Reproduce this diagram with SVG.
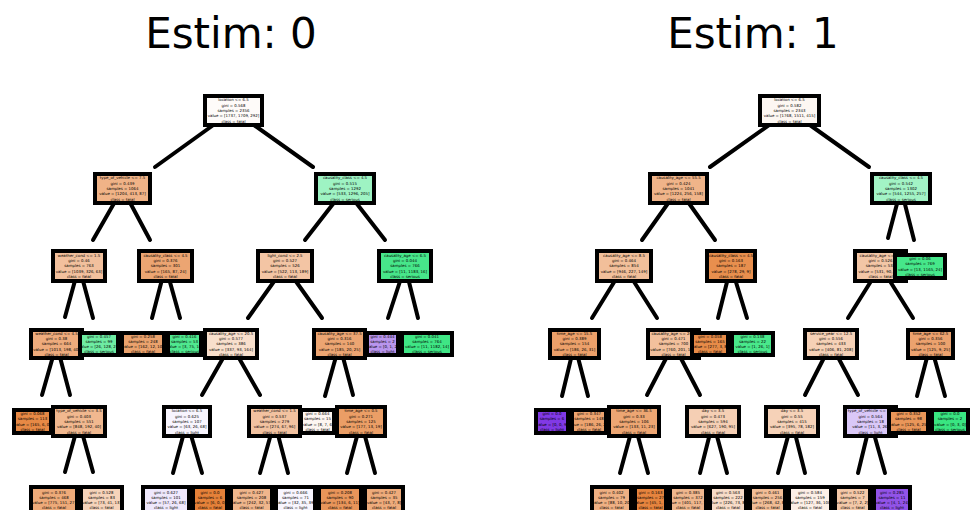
<svg xmlns="http://www.w3.org/2000/svg" width="973" height="510" viewBox="0 0 973 510">
<style>
.title{font-family:"DejaVu Sans",sans-serif;font-size:42px;text-anchor:middle;fill:#000}
.n rect{stroke:#000;stroke-width:4}
.n text{font-family:"DejaVu Sans",sans-serif;font-size:3.9px;text-anchor:middle;fill:#000}
.e line{stroke:#000;stroke-width:4;stroke-linecap:round}
</style>
<rect width="973" height="510" fill="#fff"/>
<text class="title" x="231" y="48">Estim: 0</text>
<text class="title" x="753" y="48">Estim: 1</text>
<g id="connectors" class="e">
<line x1="233.5" y1="110.5" x2="155" y2="167"/><line x1="233.5" y1="110.5" x2="313" y2="167"/>
<line x1="122.5" y1="188.5" x2="93" y2="240"/><line x1="122.5" y1="188.5" x2="150" y2="240"/>
<line x1="345" y1="188.5" x2="305" y2="240"/><line x1="345" y1="188.5" x2="385" y2="240"/>
<line x1="79" y1="266" x2="65" y2="317"/><line x1="79" y1="266" x2="93" y2="318"/>
<line x1="165.5" y1="266" x2="152" y2="318"/><line x1="165.5" y1="266" x2="180" y2="318"/>
<line x1="285" y1="266" x2="248" y2="318"/><line x1="285" y1="266" x2="322" y2="318"/>
<line x1="405" y1="266" x2="388" y2="318"/><line x1="405" y1="266" x2="418" y2="318"/>
<line x1="56.5" y1="344" x2="42" y2="395"/><line x1="56.5" y1="344" x2="70" y2="395"/>
<line x1="231" y1="344" x2="202" y2="395"/><line x1="231" y1="344" x2="260" y2="395"/>
<line x1="339.5" y1="344" x2="325" y2="396"/><line x1="339.5" y1="344" x2="353" y2="395"/>
<line x1="79" y1="421.5" x2="65" y2="472"/><line x1="79" y1="421.5" x2="93" y2="472"/>
<line x1="187" y1="421.5" x2="173" y2="473"/><line x1="187" y1="421.5" x2="202" y2="473"/>
<line x1="274.5" y1="421.5" x2="260" y2="473"/><line x1="274.5" y1="421.5" x2="288" y2="473"/>
<line x1="361" y1="421.5" x2="347" y2="473"/><line x1="361" y1="421.5" x2="375" y2="473"/>
<line x1="789.5" y1="110.5" x2="710" y2="167"/><line x1="789.5" y1="110.5" x2="869" y2="167"/>
<line x1="678.5" y1="188.5" x2="642" y2="240"/><line x1="678.5" y1="188.5" x2="715" y2="240"/>
<line x1="901" y1="188.5" x2="888" y2="238"/><line x1="901" y1="188.5" x2="914" y2="240"/>
<line x1="624" y1="266" x2="592" y2="318"/><line x1="624" y1="266" x2="657" y2="318"/>
<line x1="731" y1="266" x2="718" y2="318"/><line x1="731" y1="266" x2="747" y2="318"/>
<line x1="880.5" y1="266" x2="848" y2="318"/><line x1="880.5" y1="266" x2="913" y2="318"/>
<line x1="574.5" y1="344" x2="562" y2="396"/><line x1="574.5" y1="344" x2="588" y2="396"/>
<line x1="673.5" y1="344" x2="647" y2="395"/><line x1="673.5" y1="344" x2="700" y2="395"/>
<line x1="831" y1="344" x2="805" y2="395"/><line x1="831" y1="344" x2="858" y2="395"/>
<line x1="930.5" y1="344" x2="917" y2="396"/><line x1="930.5" y1="344" x2="945" y2="396"/>
<line x1="634" y1="421.5" x2="620" y2="473"/><line x1="634" y1="421.5" x2="648" y2="473"/>
<line x1="713" y1="421.5" x2="700" y2="473"/><line x1="713" y1="421.5" x2="727" y2="473"/>
<line x1="792" y1="421.5" x2="778" y2="473"/><line x1="792" y1="421.5" x2="805" y2="473"/>
<line x1="870.5" y1="421.5" x2="858" y2="473"/><line x1="870.5" y1="421.5" x2="885" y2="473"/>
</g>
<!-- Tree 0 -->
<g id="t0-root" class="n"><rect x="205" y="96" width="57" height="29" fill="#fefbf9"/><text x="233.5" y="101.3"><tspan x="233.5">location &lt;= 6.5</tspan><tspan x="233.5" dy="5.3">gini = 0.568</tspan><tspan x="233.5" dy="5.3">samples = 2356</tspan><tspan x="233.5" dy="5.3">value = [1737, 1709, 292]</tspan><tspan x="233.5" dy="5.3">class = fatal</tspan></text></g>
<g id="t0-L" class="n"><rect x="95" y="174" width="55" height="29" fill="#f0b387"/><text x="122.5" y="179.3"><tspan x="122.5">type_of_vehicle &lt;= 7.5</tspan><tspan x="122.5" dy="5.3">gini = 0.439</tspan><tspan x="122.5" dy="5.3">samples = 1064</tspan><tspan x="122.5" dy="5.3">value = [1204, 413, 87]</tspan><tspan x="122.5" dy="5.3">class = fatal</tspan></text></g>
<g id="t0-A" class="n"><rect x="53" y="251" width="52" height="30" fill="#f2c09d"/><text x="79" y="256.8"><tspan x="79">weather_cond &lt;= 1.5</tspan><tspan x="79" dy="5.3">gini = 0.46</tspan><tspan x="79" dy="5.3">samples = 763</tspan><tspan x="79" dy="5.3">value = [1039, 326, 63]</tspan><tspan x="79" dy="5.3">class = fatal</tspan></text></g>
<g id="t0-E" class="n"><rect x="31" y="330" width="51" height="28" fill="#eeab7c"/><text x="56.5" y="334.8"><tspan x="56.5">weather_cond &lt;= 4.5</tspan><tspan x="56.5" dy="5.3">gini = 0.38</tspan><tspan x="56.5" dy="5.3">samples = 664</tspan><tspan x="56.5" dy="5.3">value = [1013, 198, 40]</tspan><tspan x="56.5" dy="5.3">class = fatal</tspan></text></g>
<g id="t0-M" class="n"><rect x="14" y="410" width="37" height="23" fill="#e78945"/><text x="32.5" y="415"><tspan x="32.5">gini = 0.068</tspan><tspan x="32.5" dy="5.3">samples = 113</tspan><tspan x="32.5" dy="5.3">value = [165, 6, 0]</tspan><tspan x="32.5" dy="5.3">class = fatal</tspan></text></g>
<g id="t0-N" class="n"><rect x="53" y="407" width="52" height="29" fill="#f1b88f"/><text x="79" y="412.3"><tspan x="79">type_of_vehicle &lt;= 3.5</tspan><tspan x="79" dy="5.3">gini = 0.403</tspan><tspan x="79" dy="5.3">samples = 551</tspan><tspan x="79" dy="5.3">value = [848, 192, 40]</tspan><tspan x="79" dy="5.3">class = fatal</tspan></text></g>
<g id="t0-S1" class="n"><rect x="31" y="487" width="46" height="26" fill="#eeaa79"/><text x="54" y="493.5"><tspan x="54">gini = 0.376</tspan><tspan x="54" dy="5.3">samples = 468</tspan><tspan x="54" dy="5.3">value = [775, 151, 27]</tspan><tspan x="54" dy="5.3">class = fatal</tspan></text></g>
<g id="t0-S2" class="n"><rect x="81" y="487" width="41" height="26" fill="#f6d3ba"/><text x="101.5" y="493.5"><tspan x="101.5">gini = 0.528</tspan><tspan x="101.5" dy="5.3">samples = 83</tspan><tspan x="101.5" dy="5.3">value = [73, 41, 13]</tspan><tspan x="101.5" dy="5.3">class = fatal</tspan></text></g>
<g id="t0-F" class="n"><rect x="80" y="333" width="38" height="22" fill="#6eeca3"/><text x="99" y="337.5"><tspan x="99">gini = 0.457</tspan><tspan x="99" dy="5.3">samples = 99</tspan><tspan x="99" dy="5.3">value = [26, 128, 23]</tspan><tspan x="99" dy="5.3">class = serious</tspan></text></g>
<g id="t0-B" class="n"><rect x="139" y="251" width="53" height="30" fill="#eca572"/><text x="165.5" y="256.8"><tspan x="165.5">causality_class &lt;= 4.5</tspan><tspan x="165.5" dy="5.3">gini = 0.376</tspan><tspan x="165.5" dy="5.3">samples = 301</tspan><tspan x="165.5" dy="5.3">value = [165, 87, 24]</tspan><tspan x="165.5" dy="5.3">class = fatal</tspan></text></g>
<g id="t0-G" class="n"><rect x="122" y="333" width="42" height="22" fill="#eba26d"/><text x="143" y="337.5"><tspan x="143">gini = 0.258</tspan><tspan x="143" dy="5.3">samples = 248</tspan><tspan x="143" dy="5.3">value = [162, 12, 10]</tspan><tspan x="143" dy="5.3">class = fatal</tspan></text></g>
<g id="t0-H" class="n"><rect x="168" y="333" width="33" height="22" fill="#4fe88f"/><text x="184.5" y="337.5"><tspan x="184.5">gini = 0.416</tspan><tspan x="184.5" dy="5.3">samples = 53</tspan><tspan x="184.5" dy="5.3">value = [3, 75, 14]</tspan><tspan x="184.5" dy="5.3">class = serious</tspan></text></g>
<g id="t0-R" class="n"><rect x="316" y="174" width="58" height="29" fill="#9ef3c3"/><text x="345" y="179.3"><tspan x="345">causality_class &lt;= 4.5</tspan><tspan x="345" dy="5.3">gini = 0.515</tspan><tspan x="345" dy="5.3">samples = 1292</tspan><tspan x="345" dy="5.3">value = [533, 1296, 205]</tspan><tspan x="345" dy="5.3">class = serious</tspan></text></g>
<g id="t0-C" class="n"><rect x="258" y="251" width="54" height="30" fill="#f3c5a4"/><text x="285" y="256.8"><tspan x="285">light_cond &lt;= 2.5</tspan><tspan x="285" dy="5.3">gini = 0.527</tspan><tspan x="285" dy="5.3">samples = 526</tspan><tspan x="285" dy="5.3">value = [522, 113, 189]</tspan><tspan x="285" dy="5.3">class = fatal</tspan></text></g>
<g id="t0-I" class="n"><rect x="205" y="330" width="52" height="28" fill="#f8dfcc"/><text x="231" y="334.8"><tspan x="231">causality_age &lt;= 20.5</tspan><tspan x="231" dy="5.3">gini = 0.577</tspan><tspan x="231" dy="5.3">samples = 386</tspan><tspan x="231" dy="5.3">value = [337, 93, 164]</tspan><tspan x="231" dy="5.3">class = fatal</tspan></text></g>
<g id="t0-O" class="n"><rect x="164" y="407" width="46" height="29" fill="#f8f5fe"/><text x="187" y="412.3"><tspan x="187">location &lt;= 6.5</tspan><tspan x="187" dy="5.3">gini = 0.625</tspan><tspan x="187" dy="5.3">samples = 107</tspan><tspan x="187" dy="5.3">value = [63, 26, 68]</tspan><tspan x="187" dy="5.3">class = light</tspan></text></g>
<g id="t0-S3" class="n"><rect x="143" y="487" width="46" height="26" fill="#efe8fc"/><text x="166" y="493.5"><tspan x="166">gini = 0.627</tspan><tspan x="166" dy="5.3">samples = 101</tspan><tspan x="166" dy="5.3">value = [57, 26, 68]</tspan><tspan x="166" dy="5.3">class = light</tspan></text></g>
<g id="t0-S4" class="n"><rect x="193" y="487" width="34" height="26" fill="#e58139"/><text x="210" y="493.5"><tspan x="210">gini = 0.0</tspan><tspan x="210" dy="5.3">samples = 6</tspan><tspan x="210" dy="5.3">value = [6, 0, 0]</tspan><tspan x="210" dy="5.3">class = fatal</tspan></text></g>
<g id="t0-P" class="n"><rect x="249" y="407" width="51" height="29" fill="#f2c2a0"/><text x="274.5" y="412.3"><tspan x="274.5">weather_cond &lt;= 1.5</tspan><tspan x="274.5" dy="5.3">gini = 0.537</tspan><tspan x="274.5" dy="5.3">samples = 279</tspan><tspan x="274.5" dy="5.3">value = [274, 67, 96]</tspan><tspan x="274.5" dy="5.3">class = fatal</tspan></text></g>
<g id="t0-S5" class="n"><rect x="231" y="487" width="41" height="26" fill="#f0b68c"/><text x="251.5" y="493.5"><tspan x="251.5">gini = 0.427</tspan><tspan x="251.5" dy="5.3">samples = 208</tspan><tspan x="251.5" dy="5.3">value = [242, 32, 57]</tspan><tspan x="251.5" dy="5.3">class = fatal</tspan></text></g>
<g id="t0-S6" class="n"><rect x="276" y="487" width="39" height="26" fill="#f8f5fe"/><text x="295.5" y="493.5"><tspan x="295.5">gini = 0.666</tspan><tspan x="295.5" dy="5.3">samples = 71</tspan><tspan x="295.5" dy="5.3">value = [32, 35, 39]</tspan><tspan x="295.5" dy="5.3">class = light</tspan></text></g>
<g id="t0-J" class="n"><rect x="314" y="330" width="51" height="28" fill="#eca572"/><text x="339.5" y="334.8"><tspan x="339.5">causality_age &lt;= 37.5</tspan><tspan x="339.5" dy="5.3">gini = 0.316</tspan><tspan x="339.5" dy="5.3">samples = 140</tspan><tspan x="339.5" dy="5.3">value = [185, 20, 25]</tspan><tspan x="339.5" dy="5.3">class = fatal</tspan></text></g>
<g id="t0-Q" class="n"><rect x="301" y="410" width="33" height="23" fill="#fdf6f1"/><text x="317.5" y="415"><tspan x="317.5">gini = 0.664</tspan><tspan x="317.5" dy="5.3">samples = 15</tspan><tspan x="317.5" dy="5.3">value = [8, 7, 6]</tspan><tspan x="317.5" dy="5.3">class = fatal</tspan></text></g>
<g id="t0-Rr" class="n"><rect x="337" y="407" width="48" height="29" fill="#eb9e66"/><text x="361" y="412.3"><tspan x="361">time_age &lt;= 0.5</tspan><tspan x="361" dy="5.3">gini = 0.271</tspan><tspan x="361" dy="5.3">samples = 125</tspan><tspan x="361" dy="5.3">value = [177, 13, 19]</tspan><tspan x="361" dy="5.3">class = fatal</tspan></text></g>
<g id="t0-S7" class="n"><rect x="319" y="487" width="42" height="26" fill="#e9955a"/><text x="340" y="493.5"><tspan x="340">gini = 0.208</tspan><tspan x="340" dy="5.3">samples = 90</tspan><tspan x="340" dy="5.3">value = [134, 6, 11]</tspan><tspan x="340" dy="5.3">class = fatal</tspan></text></g>
<g id="t0-S8" class="n"><rect x="365" y="487" width="38" height="26" fill="#eeab7b"/><text x="384" y="493.5"><tspan x="384">gini = 0.427</tspan><tspan x="384" dy="5.3">samples = 35</tspan><tspan x="384" dy="5.3">value = [43, 7, 8]</tspan><tspan x="384" dy="5.3">class = fatal</tspan></text></g>
<g id="t0-D" class="n"><rect x="379" y="251" width="52" height="30" fill="#47e68a"/><text x="405" y="256.8"><tspan x="405">causality_age &lt;= 6.5</tspan><tspan x="405" dy="5.3">gini = 0.044</tspan><tspan x="405" dy="5.3">samples = 766</tspan><tspan x="405" dy="5.3">value = [11, 1183, 16]</tspan><tspan x="405" dy="5.3">class = serious</tspan></text></g>
<g id="t0-K" class="n"><rect x="367" y="333" width="31" height="22" fill="#b995ee"/><text x="382.5" y="337.5"><tspan x="382.5">gini = 0.444</tspan><tspan x="382.5" dy="5.3">samples = 2</tspan><tspan x="382.5" dy="5.3">value = [0, 1, 2]</tspan><tspan x="382.5" dy="5.3">class = light</tspan></text></g>
<g id="t0-L2" class="n"><rect x="402" y="333" width="50" height="22" fill="#3fe685"/><text x="427" y="337.5"><tspan x="427">gini = 0.041</tspan><tspan x="427" dy="5.3">samples = 764</tspan><tspan x="427" dy="5.3">value = [11, 1182, 14]</tspan><tspan x="427" dy="5.3">class = serious</tspan></text></g>
<!-- Tree 1 -->
<g id="t1-root" class="n"><rect x="760" y="96" width="59" height="29" fill="#fdf7f2"/><text x="789.5" y="101.3"><tspan x="789.5">location &lt;= 6.5</tspan><tspan x="789.5" dy="5.3">gini = 0.582</tspan><tspan x="789.5" dy="5.3">samples = 2343</tspan><tspan x="789.5" dy="5.3">value = [1768, 1511, 415]</tspan><tspan x="789.5" dy="5.3">class = fatal</tspan></text></g>
<g id="t1-L" class="n"><rect x="650" y="174" width="57" height="29" fill="#f0b489"/><text x="678.5" y="179.3"><tspan x="678.5">causality_age &lt;= 55.5</tspan><tspan x="678.5" dy="5.3">gini = 0.424</tspan><tspan x="678.5" dy="5.3">samples = 1041</tspan><tspan x="678.5" dy="5.3">value = [1224, 256, 158]</tspan><tspan x="678.5" dy="5.3">class = fatal</tspan></text></g>
<g id="t1-A" class="n"><rect x="597" y="251" width="54" height="30" fill="#f2bf9a"/><text x="624" y="256.8"><tspan x="624">causality_age &lt;= 8.5</tspan><tspan x="624" dy="5.3">gini = 0.464</tspan><tspan x="624" dy="5.3">samples = 854</tspan><tspan x="624" dy="5.3">value = [946, 227, 149]</tspan><tspan x="624" dy="5.3">class = fatal</tspan></text></g>
<g id="t1-E" class="n"><rect x="550" y="330" width="49" height="28" fill="#eca06a"/><text x="574.5" y="334.8"><tspan x="574.5">time_age &lt;= 15.5</tspan><tspan x="574.5" dy="5.3">gini = 0.389</tspan><tspan x="574.5" dy="5.3">samples = 154</tspan><tspan x="574.5" dy="5.3">value = [186, 26, 31]</tspan><tspan x="574.5" dy="5.3">class = fatal</tspan></text></g>
<g id="t1-K" class="n"><rect x="536" y="410" width="32" height="23" fill="#8139e5"/><text x="552" y="415"><tspan x="552">gini = 0.0</tspan><tspan x="552" dy="5.3">samples = 6</tspan><tspan x="552" dy="5.3">value = [0, 0, 9]</tspan><tspan x="552" dy="5.3">class = light</tspan></text></g>
<g id="t1-L2" class="n"><rect x="572" y="410" width="34" height="23" fill="#eda470"/><text x="589" y="415"><tspan x="589">gini = 0.347</tspan><tspan x="589" dy="5.3">samples = 148</tspan><tspan x="589" dy="5.3">value = [186, 26, 22]</tspan><tspan x="589" dy="5.3">class = fatal</tspan></text></g>
<g id="t1-F" class="n"><rect x="648" y="330" width="51" height="28" fill="#f2c09c"/><text x="673.5" y="334.8"><tspan x="673.5">causality_age &lt;= 20.5</tspan><tspan x="673.5" dy="5.3">gini = 0.471</tspan><tspan x="673.5" dy="5.3">samples = 700</tspan><tspan x="673.5" dy="5.3">value = [760, 201, 118]</tspan><tspan x="673.5" dy="5.3">class = fatal</tspan></text></g>
<g id="t1-M" class="n"><rect x="609" y="407" width="50" height="29" fill="#eda673"/><text x="634" y="412.3"><tspan x="634">time_age &lt;= 36.5</tspan><tspan x="634" dy="5.3">gini = 0.33</tspan><tspan x="634" dy="5.3">samples = 106</tspan><tspan x="634" dy="5.3">value = [133, 11, 23]</tspan><tspan x="634" dy="5.3">class = fatal</tspan></text></g>
<g id="t1-T1" class="n"><rect x="592" y="487" width="39" height="26" fill="#efb083"/><text x="611.5" y="493.5"><tspan x="611.5">gini = 0.402</tspan><tspan x="611.5" dy="5.3">samples = 79</tspan><tspan x="611.5" dy="5.3">value = [88, 10, 20]</tspan><tspan x="611.5" dy="5.3">class = fatal</tspan></text></g>
<g id="t1-T2" class="n"><rect x="635" y="487" width="31" height="26" fill="#e6843e"/><text x="650.5" y="493.5"><tspan x="650.5">gini = 0.163</tspan><tspan x="650.5" dy="5.3">samples = 27</tspan><tspan x="650.5" dy="5.3">value = [45, 1, 3]</tspan><tspan x="650.5" dy="5.3">class = fatal</tspan></text></g>
<g id="t1-N" class="n"><rect x="687" y="407" width="52" height="29" fill="#f5cfb4"/><text x="713" y="412.3"><tspan x="713">day &lt;= 3.5</tspan><tspan x="713" dy="5.3">gini = 0.473</tspan><tspan x="713" dy="5.3">samples = 594</tspan><tspan x="713" dy="5.3">value = [627, 190, 95]</tspan><tspan x="713" dy="5.3">class = fatal</tspan></text></g>
<g id="t1-T3" class="n"><rect x="670" y="487" width="36" height="26" fill="#f0b78e"/><text x="688" y="493.5"><tspan x="688">gini = 0.385</tspan><tspan x="688" dy="5.3">samples = 372</tspan><tspan x="688" dy="5.3">value = [401, 117, 15]</tspan><tspan x="688" dy="5.3">class = fatal</tspan></text></g>
<g id="t1-T4" class="n"><rect x="710" y="487" width="36" height="26" fill="#f8dcc8"/><text x="728" y="493.5"><tspan x="728">gini = 0.563</tspan><tspan x="728" dy="5.3">samples = 222</tspan><tspan x="728" dy="5.3">value = [226, 73, 80]</tspan><tspan x="728" dy="5.3">class = fatal</tspan></text></g>
<g id="t1-B" class="n"><rect x="707" y="251" width="48" height="30" fill="#e88f4e"/><text x="731" y="256.8"><tspan x="731">causality_class &lt;= 4.5</tspan><tspan x="731" dy="5.3">gini = 0.163</tspan><tspan x="731" dy="5.3">samples = 187</tspan><tspan x="731" dy="5.3">value = [278, 29, 9]</tspan><tspan x="731" dy="5.3">class = fatal</tspan></text></g>
<g id="t1-G" class="n"><rect x="692" y="333" width="36" height="22" fill="#e78b48"/><text x="710" y="337.5"><tspan x="710">gini = 0.058</tspan><tspan x="710" dy="5.3">samples = 165</tspan><tspan x="710" dy="5.3">value = [277, 3, 8]</tspan><tspan x="710" dy="5.3">class = fatal</tspan></text></g>
<g id="t1-H" class="n"><rect x="732" y="333" width="41" height="22" fill="#49e88b"/><text x="752.5" y="337.5"><tspan x="752.5">gini = 0.138</tspan><tspan x="752.5" dy="5.3">samples = 22</tspan><tspan x="752.5" dy="5.3">value = [1, 26, 1]</tspan><tspan x="752.5" dy="5.3">class = serious</tspan></text></g>
<g id="t1-R" class="n"><rect x="872" y="174" width="58" height="29" fill="#a2f3c5"/><text x="901" y="179.3"><tspan x="901">causality_class &lt;= 4.5</tspan><tspan x="901" dy="5.3">gini = 0.542</tspan><tspan x="901" dy="5.3">samples = 1302</tspan><tspan x="901" dy="5.3">value = [544, 1255, 257]</tspan><tspan x="901" dy="5.3">class = serious</tspan></text></g>
<g id="t1-C" class="n"><rect x="855" y="251" width="51" height="30" fill="#f3c6a6"/><text x="880.5" y="256.8"><tspan x="880.5">causality_age &lt;= 6.5</tspan><tspan x="880.5" dy="5.3">gini = 0.526</tspan><tspan x="880.5" dy="5.3">samples = 533</tspan><tspan x="880.5" dy="5.3">value = [531, 90, 233]</tspan><tspan x="880.5" dy="5.3">class = fatal</tspan></text></g>
<g id="t1-I" class="n"><rect x="805" y="330" width="52" height="28" fill="#f6d1b6"/><text x="831" y="334.8"><tspan x="831">service_year &lt;= 12.5</tspan><tspan x="831" dy="5.3">gini = 0.556</tspan><tspan x="831" dy="5.3">samples = 433</tspan><tspan x="831" dy="5.3">value = [406, 81, 208]</tspan><tspan x="831" dy="5.3">class = fatal</tspan></text></g>
<g id="t1-O" class="n"><rect x="766" y="407" width="52" height="29" fill="#f6d2b8"/><text x="792" y="412.3"><tspan x="792">day &lt;= 3.5</tspan><tspan x="792" dy="5.3">gini = 0.55</tspan><tspan x="792" dy="5.3">samples = 415</tspan><tspan x="792" dy="5.3">value = [395, 78, 182]</tspan><tspan x="792" dy="5.3">class = fatal</tspan></text></g>
<g id="t1-T5" class="n"><rect x="750" y="487" width="35" height="26" fill="#f2bd96"/><text x="767.5" y="493.5"><tspan x="767.5">gini = 0.461</tspan><tspan x="767.5" dy="5.3">samples = 256</tspan><tspan x="767.5" dy="5.3">value = [268, 42, 82]</tspan><tspan x="767.5" dy="5.3">class = fatal</tspan></text></g>
<g id="t1-T6" class="n"><rect x="789" y="487" width="42" height="26" fill="#fcefe6"/><text x="810" y="493.5"><tspan x="810">gini = 0.584</tspan><tspan x="810" dy="5.3">samples = 159</tspan><tspan x="810" dy="5.3">value = [127, 36, 100]</tspan><tspan x="810" dy="5.3">class = fatal</tspan></text></g>
<g id="t1-P" class="n"><rect x="845" y="407" width="51" height="29" fill="#dac8f8"/><text x="870.5" y="412.3"><tspan x="870.5">type_of_vehicle &lt;= 5.5</tspan><tspan x="870.5" dy="5.3">gini = 0.564</tspan><tspan x="870.5" dy="5.3">samples = 18</tspan><tspan x="870.5" dy="5.3">value = [11, 3, 26]</tspan><tspan x="870.5" dy="5.3">class = light</tspan></text></g>
<g id="t1-T7" class="n"><rect x="835" y="487" width="35" height="26" fill="#f4c8a8"/><text x="852.5" y="493.5"><tspan x="852.5">gini = 0.522</tspan><tspan x="852.5" dy="5.3">samples = 7</tspan><tspan x="852.5" dy="5.3">value = [7, 2, 2]</tspan><tspan x="852.5" dy="5.3">class = fatal</tspan></text></g>
<g id="t1-T8" class="n"><rect x="874" y="487" width="36" height="26" fill="#9253e8"/><text x="892" y="493.5"><tspan x="892">gini = 0.285</tspan><tspan x="892" dy="5.3">samples = 11</tspan><tspan x="892" dy="5.3">value = [4, 1, 24]</tspan><tspan x="892" dy="5.3">class = light</tspan></text></g>
<g id="t1-J" class="n"><rect x="908" y="330" width="45" height="28" fill="#eca26e"/><text x="930.5" y="334.8"><tspan x="930.5">time_age &lt;= 62.5</tspan><tspan x="930.5" dy="5.3">gini = 0.356</tspan><tspan x="930.5" dy="5.3">samples = 100</tspan><tspan x="930.5" dy="5.3">value = [125, 9, 25]</tspan><tspan x="930.5" dy="5.3">class = fatal</tspan></text></g>
<g id="t1-Q" class="n"><rect x="889" y="410" width="39" height="23" fill="#e99659"/><text x="908.5" y="415"><tspan x="908.5">gini = 0.352</tspan><tspan x="908.5" dy="5.3">samples = 98</tspan><tspan x="908.5" dy="5.3">value = [125, 6, 25]</tspan><tspan x="908.5" dy="5.3">class = fatal</tspan></text></g>
<g id="t1-Rr" class="n"><rect x="932" y="410" width="36" height="23" fill="#39e581"/><text x="950" y="415"><tspan x="950">gini = 0.0</tspan><tspan x="950" dy="5.3">samples = 2</tspan><tspan x="950" dy="5.3">value = [0, 3, 0]</tspan><tspan x="950" dy="5.3">class = serious</tspan></text></g>
<g id="t1-D" class="n"><rect x="895" y="255" width="50" height="23" fill="#46e78a"/><text x="920" y="260"><tspan x="920">gini = 0.06</tspan><tspan x="920" dy="5.3">samples = 769</tspan><tspan x="920" dy="5.3">value = [13, 1165, 24]</tspan><tspan x="920" dy="5.3">class = serious</tspan></text></g>
</svg>
